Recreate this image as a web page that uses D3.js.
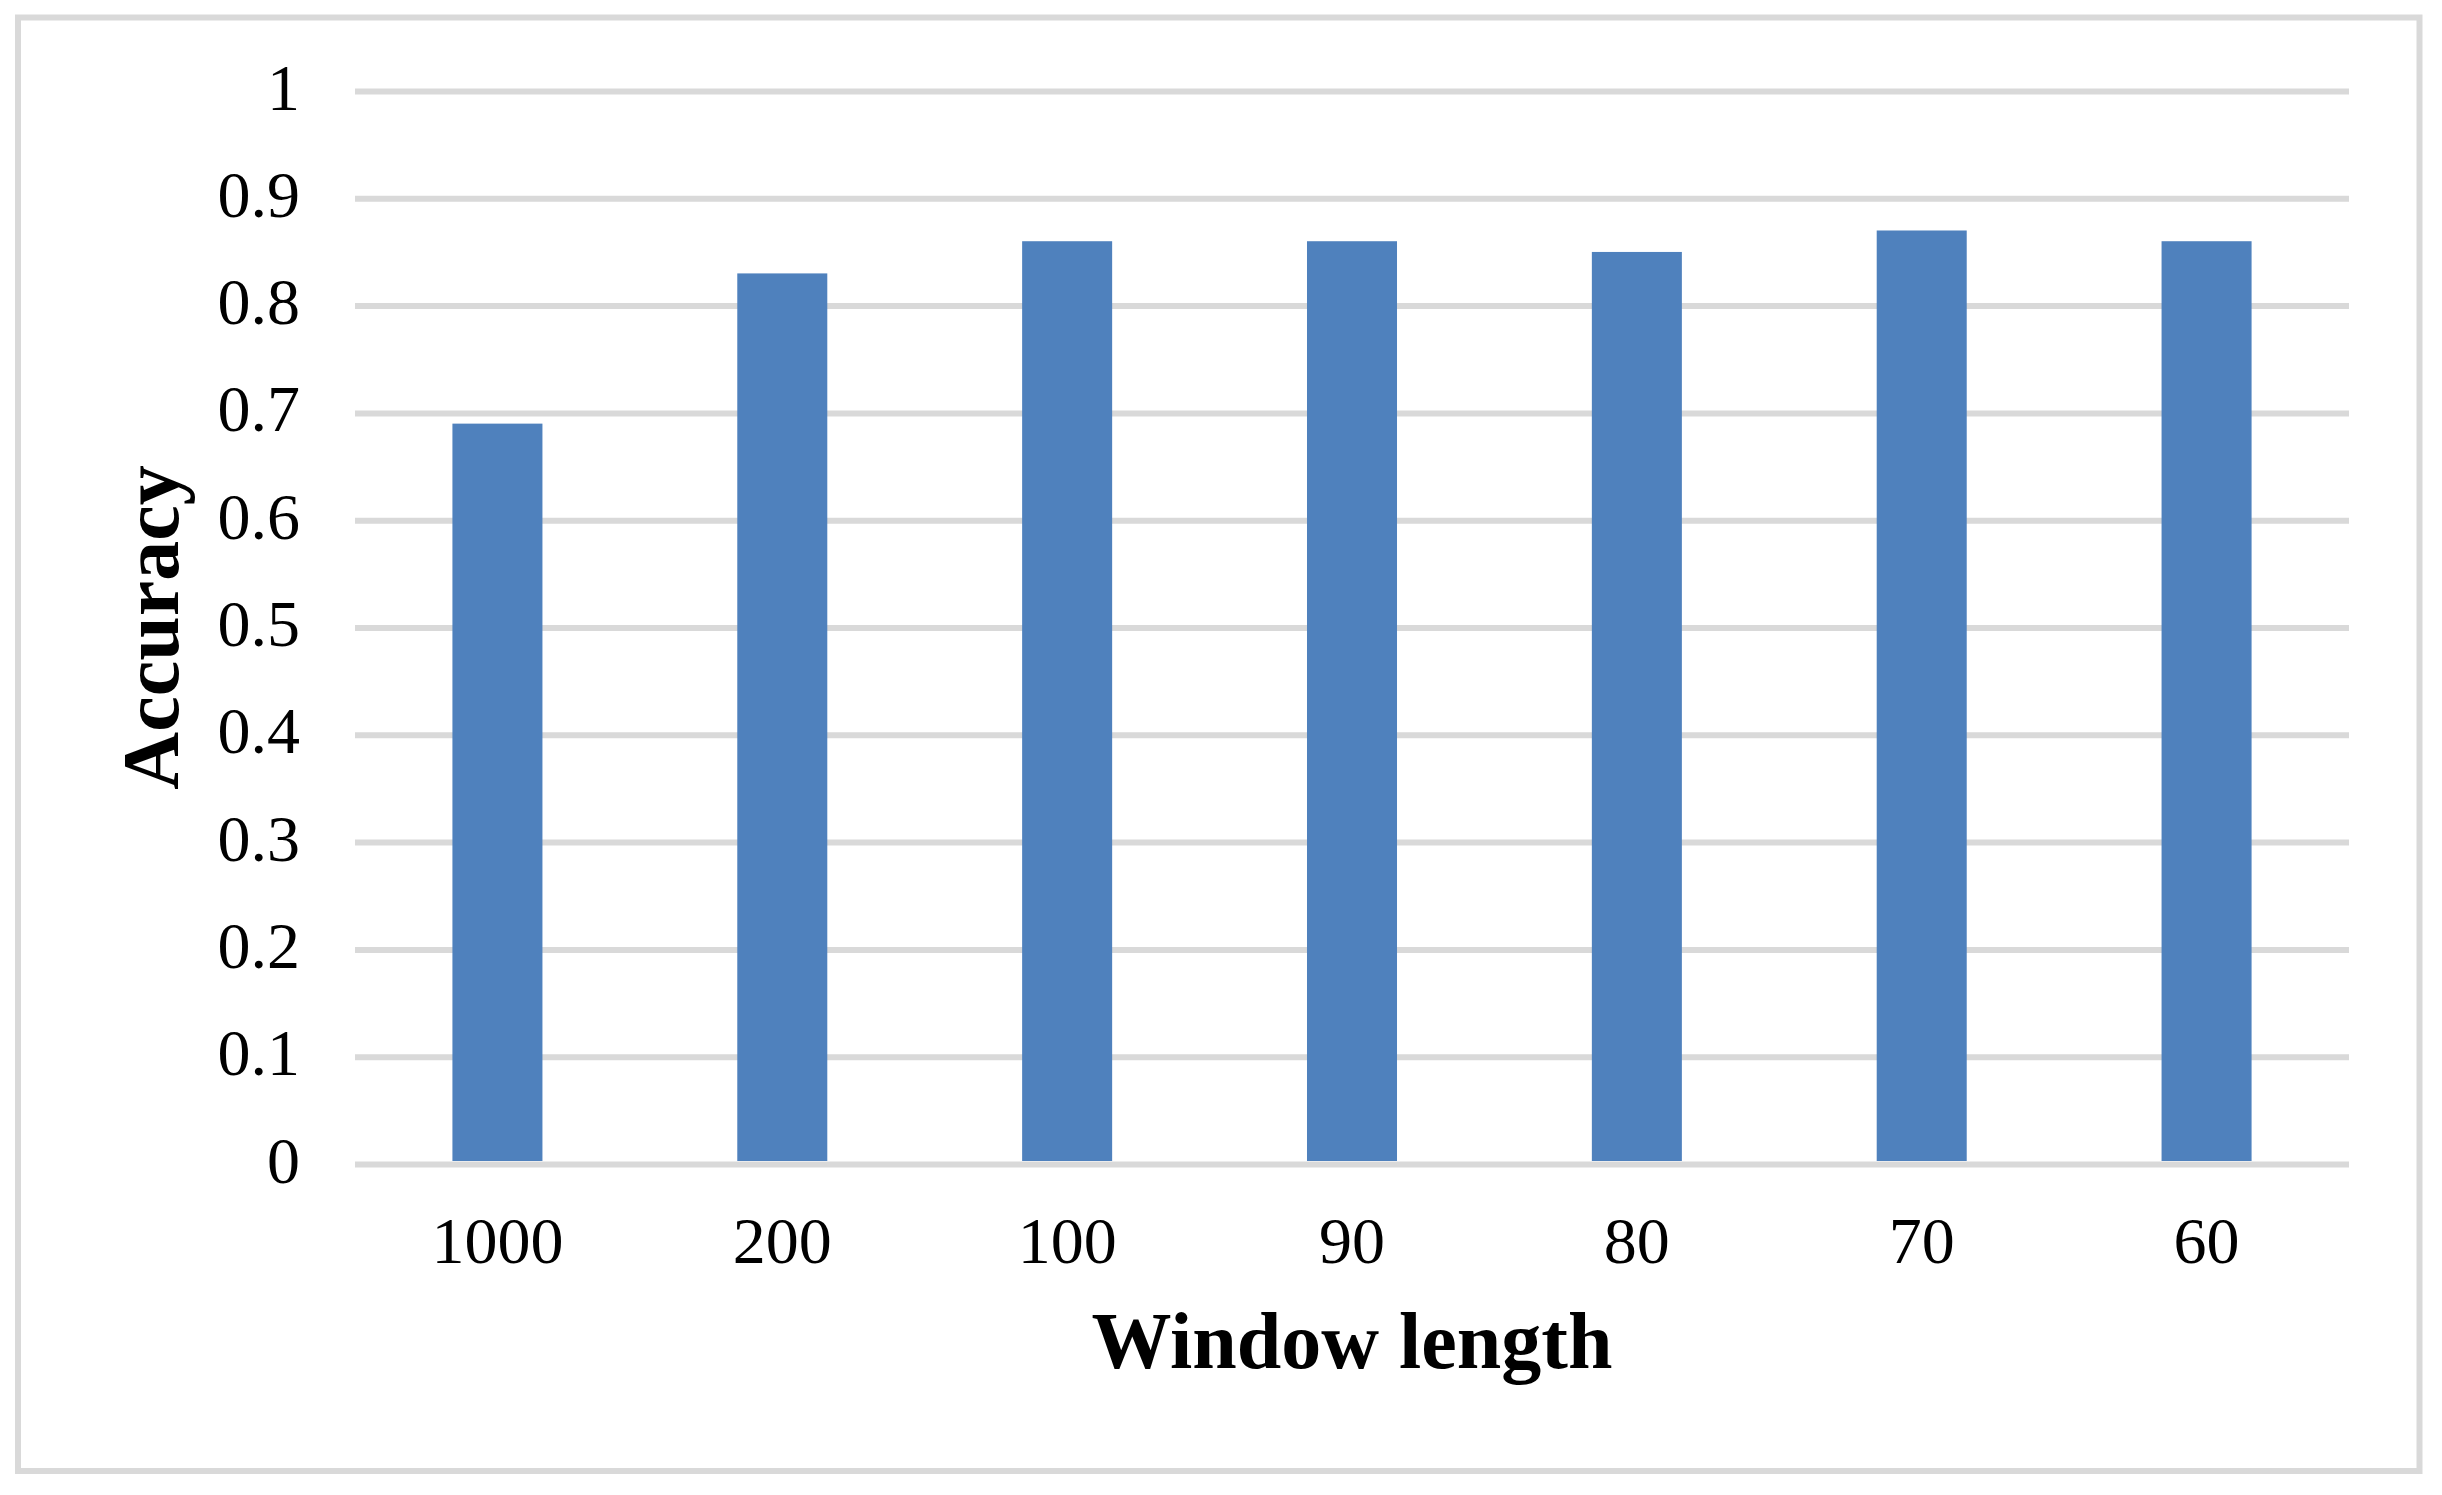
<!DOCTYPE html>
<html>
<head>
<meta charset="utf-8">
<script src="https://cdn.jsdelivr.net/npm/d3@7"></script>
<style>
  html, body { margin: 0; padding: 0; background: #fff; }
  svg { display: block; }
</style>
</head>
<body>
<svg id="chart" width="2442" height="1495"></svg>
<script>
// ---- data ----
const categories = ["1000", "200", "100", "90", "80", "70", "60"];
const accuracy = [0.69, 0.83, 0.86, 0.86, 0.85, 0.87, 0.86];
const yTicks = [0, 0.1, 0.2, 0.3, 0.4, 0.5, 0.6, 0.7, 0.8, 0.9, 1];
const yTickLabels = ["0", "0.1", "0.2", "0.3", "0.4", "0.5", "0.6", "0.7", "0.8", "0.9", "1"];
const xTitle = "Window length";
const yTitle = "Accuracy";

// ---- layout ----
const W = 2442, H = 1495;
const plot = { left: 355, right: 2349, top: 91, bottom: 1164 };
const font = "'Liberation Serif', 'Times New Roman', Times, serif";
const grid = "#d9d9d9";
const barColor = "#4f81bd";

const svg = d3.select("#chart");
svg.append("rect").attr("width", W).attr("height", H).attr("fill", "#fff");

// outer frame
svg.append("rect")
  .attr("x", 18).attr("y", 17.5)
  .attr("width", 2419.5 - 18).attr("height", 1471 - 17.5)
  .attr("fill", "none").attr("stroke", grid).attr("stroke-width", 6);

const x = d3.scaleBand()
  .domain(categories)
  .range([plot.left, plot.right])
  .paddingInner(0.684)
  .paddingOuter(0.342);

const y = d3.scaleLinear().domain([0, 1]).range([plot.bottom, plot.top]);

// gridlines via axis
const yGrid = d3.axisLeft(y)
  .tickValues(yTicks)
  .tickSize(-(plot.right - plot.left))
  .tickFormat("");
const gg = svg.append("g")
  .attr("transform", `translate(${plot.left},0)`)
  .call(yGrid);
gg.select(".domain").remove();
gg.selectAll(".tick line").attr("stroke", grid).attr("stroke-width", 6);

// bars
svg.append("g").selectAll("rect")
  .data(accuracy)
  .join("rect")
  .attr("x", (d, i) => x(categories[i]))
  .attr("width", x.bandwidth())
  .attr("y", d => y(d))
  .attr("height", d => y(0) - 3 - y(d))
  .attr("fill", barColor);

// y tick labels
const yAxis = d3.axisLeft(y)
  .tickValues(yTicks)
  .tickSize(0)
  .tickPadding(55)
  .tickFormat((d, i) => yTickLabels[i]);
const ya = svg.append("g")
  .attr("transform", `translate(${plot.left},0)`)
  .call(yAxis);
ya.select(".domain").remove();
ya.selectAll("text")
  .attr("font-family", font)
  .attr("font-size", 66)
  .attr("fill", "#000")
  .attr("dy", 18);

// x tick labels
const xAxis = d3.axisBottom(x).tickSize(0).tickPadding(0);
const xa = svg.append("g")
  .attr("transform", `translate(0,${plot.bottom})`)
  .call(xAxis);
xa.select(".domain").remove();
xa.selectAll("text")
  .attr("font-family", font)
  .attr("font-size", 66)
  .attr("fill", "#000")
  .attr("y", 0)
  .attr("dy", 99);

// axis titles
svg.append("text")
  .attr("x", (plot.left + plot.right) / 2)
  .attr("y", 1368)
  .attr("text-anchor", "middle")
  .attr("font-family", font)
  .attr("font-weight", "bold")
  .attr("font-size", 80)
  .attr("fill", "#000")
  .text(xTitle);

svg.append("text")
  .attr("transform", `translate(178,${(plot.top + plot.bottom) / 2}) rotate(-90)`)
  .attr("text-anchor", "middle")
  .attr("font-family", font)
  .attr("font-weight", "bold")
  .attr("font-size", 80)
  .attr("fill", "#000")
  .text(yTitle);
</script>
</body>
</html>
